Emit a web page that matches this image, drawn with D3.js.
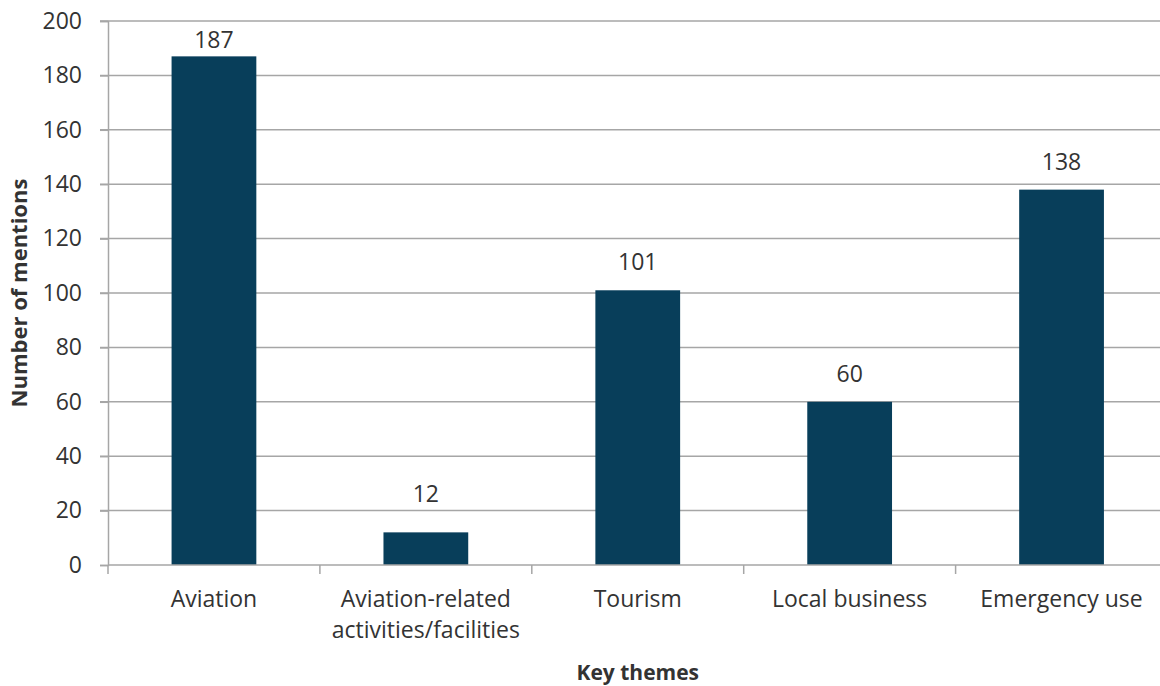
<!DOCTYPE html>
<html><head><meta charset="utf-8">
<script src="https://cdn.jsdelivr.net/npm/d3@7"></script>
<style>body{margin:0;background:#fff}svg{display:block}text{font-family:"Open Sans",sans-serif;fill:#333}</style>
</head><body><svg id="c" width="1160" height="686"></svg>
<script>
const categories = ["Aviation", "Aviation-related\nactivities/facilities", "Tourism", "Local business", "Emergency use"];
const values = [187, 12, 101, 60, 138];
const yTicks = [0, 20, 40, 60, 80, 100, 120, 140, 160, 180, 200];

(function() {
const svg = d3.select("#c");
const mLeft = 108, mRight = 1167.5, mTop = 21, mBottom = 565;
const x = d3.scaleBand().domain(categories).range([mLeft, mRight]).paddingInner(0.6).paddingOuter(0.3);
const xb = d3.scaleBand().domain(categories).range([mLeft, mRight]);
const y = d3.scaleLinear().domain([0, 200]).range([mBottom, mTop]);
const grid = "#a6a6a6";
const fs = "23px";

svg.append("g").selectAll("line").data(yTicks.filter(d => d > 0)).join("line")
  .attr("x1", mLeft - 8).attr("x2", mRight).attr("y1", d => y(d)).attr("y2", d => y(d))
  .attr("stroke", grid).attr("stroke-width", 1.5);

const ya = svg.append("g").attr("transform", `translate(${mLeft},0)`)
  .call(d3.axisLeft(y).tickValues(yTicks).tickSize(8).tickPadding(18));
ya.attr("font-family", null).attr("font-size", null);
ya.select(".domain").attr("stroke", grid).attr("stroke-width", 1.5);
ya.selectAll(".tick line").attr("stroke", grid).attr("stroke-width", 1.5);
ya.selectAll(".tick text").style("font-size", fs).attr("fill", "#333");

svg.append("g").selectAll("rect").data(values).join("rect")
  .attr("x", (d, i) => x(categories[i])).attr("width", x.bandwidth())
  .attr("y", d => y(d)).attr("height", d => y(0) - y(d)).attr("fill", "#083e5a");

svg.append("line").attr("x1", mLeft).attr("x2", mRight).attr("y1", mBottom).attr("y2", mBottom)
  .attr("stroke", grid).attr("stroke-width", 1.5);
svg.append("g").selectAll("line").data(d3.range(categories.length + 1)).join("line")
  .attr("x1", i => mLeft + i * xb.bandwidth()).attr("x2", i => mLeft + i * xb.bandwidth())
  .attr("y1", mBottom).attr("y2", mBottom + 9).attr("stroke", grid).attr("stroke-width", 1.5);

svg.append("g").selectAll("text").data(categories).join("text")
  .attr("x", d => xb(d) + xb.bandwidth() / 2).attr("y", 607)
  .attr("text-anchor", "middle").style("font-size", fs)
  .each(function(d) {
    const lines = d.split("\n");
    d3.select(this).selectAll("tspan").data(lines).join("tspan")
      .attr("x", xb(d) + xb.bandwidth() / 2).attr("dy", (l, j) => j === 0 ? 0 : 31).text(l => l);
  });

// value labels: sit ~20px above the bar, clamped below the top of the plot;
// the small bar's label is nudged up clear of the gridline, as in the source
const labelY = d => {
  let p = y(d) - 20;
  if (y(d) - y(20) < 30 && y(d) > y(20)) p = y(20) - 8.5;
  return Math.max(p, mTop + 27);
};
svg.append("g").selectAll("text").data(values).join("text")
  .attr("x", (d, i) => xb(categories[i]) + xb.bandwidth() / 2).attr("y", labelY)
  .attr("text-anchor", "middle").style("font-size", fs).text(d => d);

svg.append("text").attr("x", (mLeft + mRight) / 2).attr("y", 680).attr("text-anchor", "middle")
  .style("font-size", "21px").style("font-weight", "bold").text("Key themes");
svg.append("text").attr("transform", `translate(27,${(mTop + mBottom) / 2}) rotate(-90)`)
  .attr("text-anchor", "middle").style("font-size", "22px").style("font-weight", "bold").text("Number of mentions");
})();
</script></body></html>
